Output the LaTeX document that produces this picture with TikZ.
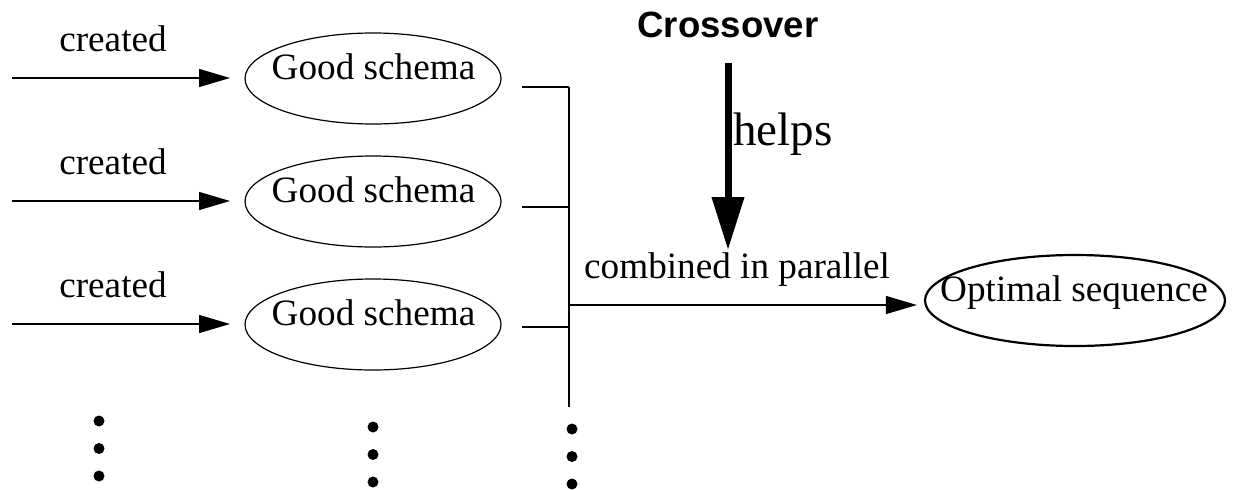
\documentclass[tikz,border=0pt]{standalone}
\usepackage{fontspec}
\setmainfont{Liberation Serif}
\newfontfamily\headfont{Liberation Sans}
\usetikzlibrary{arrows.meta,shapes.geometric}

\begin{document}
\begin{tikzpicture}[x=1pt,y=-1pt,
  txt/.style={inner sep=0pt,anchor=base,font=\fontsize{37.2}{44}\selectfont},
  schema/.style={draw,ellipse,line width=1.2pt,minimum width=256pt,minimum height=91pt,inner sep=0pt},
  goal/.style={draw,ellipse,line width=2.2pt,minimum width=300pt,minimum height=91pt,inner sep=0pt},
  flow/.style={line width=1.4pt,-{Triangle[length=31pt,width=18pt]}},
  wire/.style={line width=1.4pt},
  bigarrow/.style={line width=7pt,-{Triangle[length=53pt,width=31pt]}},
  dot/.style={circle,fill,inner sep=0pt,minimum size=11pt}]
\useasboundingbox (0,0) rectangle (1235,490);

% the three schema rows
\foreach \i/\y/\by in {1/78/87, 2/201/207, 3/324/327} {
  \node[schema] (g\i) at (373,\y+0.5) {};
  \node[txt] (gt\i) at (373.5,\y+1) {Good schema};
  \node[txt] (c\i) at (113,\y-27) {created};
  \coordinate (s\i) at (12,\y);
  \coordinate (t\i) at (230,\y);
  \draw[flow] (s\i) -- (t\i);
  \coordinate (b\i) at (522,\by);
  \coordinate (j\i) at (569,\by);
  \draw[wire] (b\i) -- (j\i);
}

% collecting bus and the output arrow
\coordinate (bustop) at (569,87);
\coordinate (busend) at (569,407);
\draw[wire] (bustop) -- (busend);
\coordinate (fork) at (569,305);
\node[goal] (opt) at (1075,300.5) {};
\node[txt] (optt) at (1074,301) {Optimal sequence};
\draw[flow] (fork) -- ([xshift=-7pt]opt.west |- fork);
\node[txt,anchor=base west] (comb) at (584,278) {combined in parallel};

% crossover influence
\node[inner sep=0pt,anchor=base,font=\headfont\bfseries\fontsize{36.6}{44}\selectfont] (cross) at (728,37) {Crossover};
\coordinate (xs) at (728,63);
\coordinate (xt) at (728,250);
\draw[bigarrow] (xs) -- (xt);
\node[inner sep=0pt,anchor=base west,font=\fontsize{47}{56}\selectfont] (helps) at (733,145) {helps};

% continuation dots
\foreach \n/\x/\ya in {l/99/421, m/373/427, r/572/429} {
  \node[dot] (\n1) at (\x,\ya) {};
  \node[dot] (\n2) at (\x,\ya+27.5) {};
  \node[dot] (\n3) at (\x,\ya+55) {};
}
\end{tikzpicture}
\end{document}
